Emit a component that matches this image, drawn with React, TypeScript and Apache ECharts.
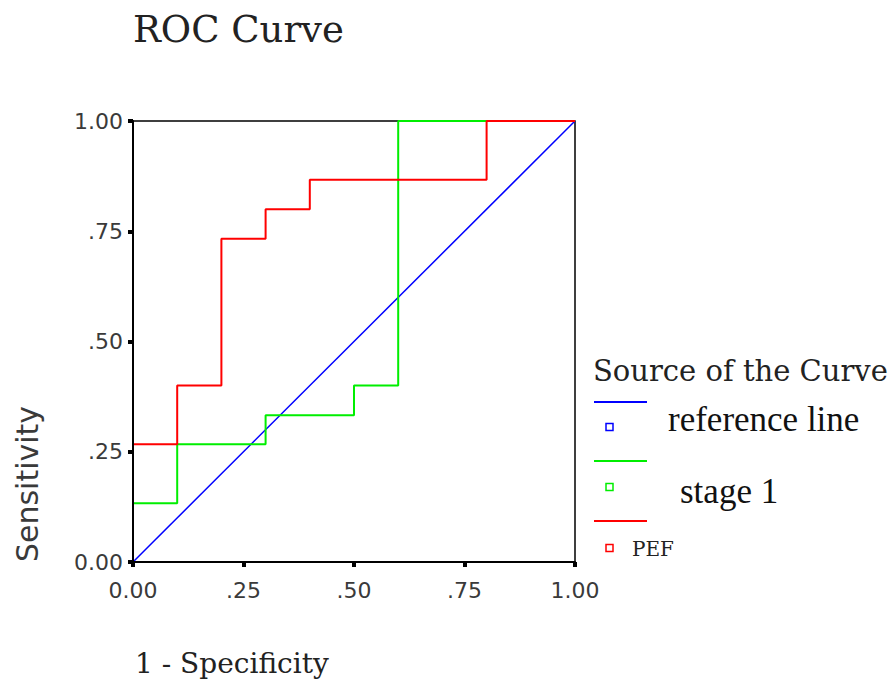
import React, { useEffect, useRef } from "react";
import * as echarts from "echarts";

const tickValues = [0, 0.25, 0.5, 0.75, 1];
const tickLabels = ["0.00", ".25", ".50", ".75", "1.00"];

const refX = [0, 1];
const refY = [0, 1];

const stageX = [0, 0, 0.1, 0.1, 0.3, 0.3, 0.5, 0.5, 0.6, 0.6, 1.0];
const stageY = [0, 0.133, 0.133, 0.267, 0.267, 0.333, 0.333, 0.4, 0.4, 1.0, 1.0];

const pefX = [0, 0, 0.1, 0.1, 0.2, 0.2, 0.3, 0.3, 0.4, 0.4, 0.8, 0.8, 1.0];
const pefY = [0, 0.267, 0.267, 0.4, 0.4, 0.733, 0.733, 0.8, 0.8, 0.867, 0.867, 1.0, 1.0];

const seriesNames = ["reference line", "stage 1", "PEF"];
const seriesColors = ["#0000ff", "#00ee00", "#ff0000"];

const zip = (xs: number[], ys: number[]) => xs.map((x, i) => [x, ys[i]]);

const fmt = (v: number) => {
  const i = tickValues.findIndex((t) => Math.abs(t - v) < 1e-6);
  return i >= 0 ? tickLabels[i] : String(v);
};

export default function App() {
  const ref = useRef<HTMLDivElement>(null);
  useEffect(() => {
    if (!ref.current) return;
    const chart = echarts.init(ref.current, undefined, { renderer: "svg" });
    const axisCommon = {
      type: "value" as const,
      min: 0,
      max: 1,
      interval: 0.25,
      z: 5,
      splitLine: { show: false },
      axisLine: { show: true, lineStyle: { color: "#000", width: 2 } },
      axisTick: { show: true, length: 5, lineStyle: { color: "#000", width: 4 } },
      axisLabel: {
        formatter: fmt,
        fontFamily: "DejaVu Sans",
        fontSize: 22,
        color: "#3a3a3a",
      },
    };
    const legendY = [402, 461, 521];
    const squareY = [427, 487, 548];
    const graphics: any[] = [
      {
        type: "text",
        x: 133,
        y: 29,
        style: {
          text: "ROC Curve",
          font: "37px 'DejaVu Serif'",
          fill: "#222",
          textAlign: "left",
          textVerticalAlign: "middle",
        },
      },
      {
        type: "text",
        x: 27,
        y: 484,
        rotation: Math.PI / 2,
        style: {
          text: "Sensitivity",
          font: "30px 'DejaVu Sans'",
          fill: "#3a3a3a",
          textAlign: "center",
          textVerticalAlign: "middle",
        },
      },
      {
        type: "text",
        x: 135,
        y: 663,
        style: {
          text: "1 - Specificity",
          font: "28px 'DejaVu Serif'",
          fill: "#222",
          textAlign: "left",
          textVerticalAlign: "middle",
        },
      },
      {
        type: "text",
        x: 593,
        y: 371,
        style: {
          text: "Source of the Curve",
          font: "29px 'DejaVu Serif'",
          fill: "#222",
          textAlign: "left",
          textVerticalAlign: "middle",
        },
      },
      {
        type: "text",
        x: 668,
        y: 419,
        style: {
          text: seriesNames[0],
          font: "35px 'Liberation Serif'",
          fill: "#111",
          textAlign: "left",
          textVerticalAlign: "middle",
        },
      },
      {
        type: "text",
        x: 680,
        y: 491,
        style: {
          text: seriesNames[1],
          font: "35px 'Liberation Serif'",
          fill: "#111",
          textAlign: "left",
          textVerticalAlign: "middle",
        },
      },
      {
        type: "text",
        x: 632,
        y: 549,
        style: {
          text: seriesNames[2],
          font: "20px 'DejaVu Serif'",
          fill: "#222",
          textAlign: "left",
          textVerticalAlign: "middle",
        },
      },
    ];
    seriesColors.forEach((c, i) => {
      graphics.push({
        type: "line",
        shape: { x1: 594, y1: legendY[i], x2: 647, y2: legendY[i] },
        style: { stroke: c, lineWidth: 2 },
      });
      graphics.push({
        type: "rect",
        shape: { x: 606, y: squareY[i] - 3.5, width: 7, height: 7 },
        style: { fill: "none", stroke: c, lineWidth: 1.5 },
      });
    });

    chart.setOption({
      animation: false,
      backgroundColor: "#fff",
      grid: {
        left: 133,
        right: 318,
        top: 121,
        bottom: 119,
        show: true,
        borderColor: "#000",
        borderWidth: 1.5,
        backgroundColor: "transparent",
      },
      xAxis: { ...axisCommon, axisLabel: { ...axisCommon.axisLabel, margin: 17 } },
      yAxis: { ...axisCommon, axisLabel: { ...axisCommon.axisLabel, margin: 10 } },
      series: [
        {
          name: seriesNames[0],
          type: "line",
          data: zip(refX, refY),
          symbol: "none",
          lineStyle: { color: seriesColors[0], width: 1.5 },
          z: 2,
        },
        {
          name: seriesNames[1],
          type: "line",
          data: zip(stageX, stageY),
          symbol: "none",
          lineStyle: { color: seriesColors[1], width: 2 },
          z: 3,
        },
        {
          name: seriesNames[2],
          type: "line",
          data: zip(pefX, pefY),
          symbol: "none",
          lineStyle: { color: seriesColors[2], width: 2 },
          z: 4,
        },
      ],
      graphic: graphics,
    });
    return () => chart.dispose();
  }, []);
  return (
    <div
      ref={ref}
      style={{ position: "absolute", left: 0, top: 0, width: 893, height: 681, background: "#fff" }}
    />
  );
}
